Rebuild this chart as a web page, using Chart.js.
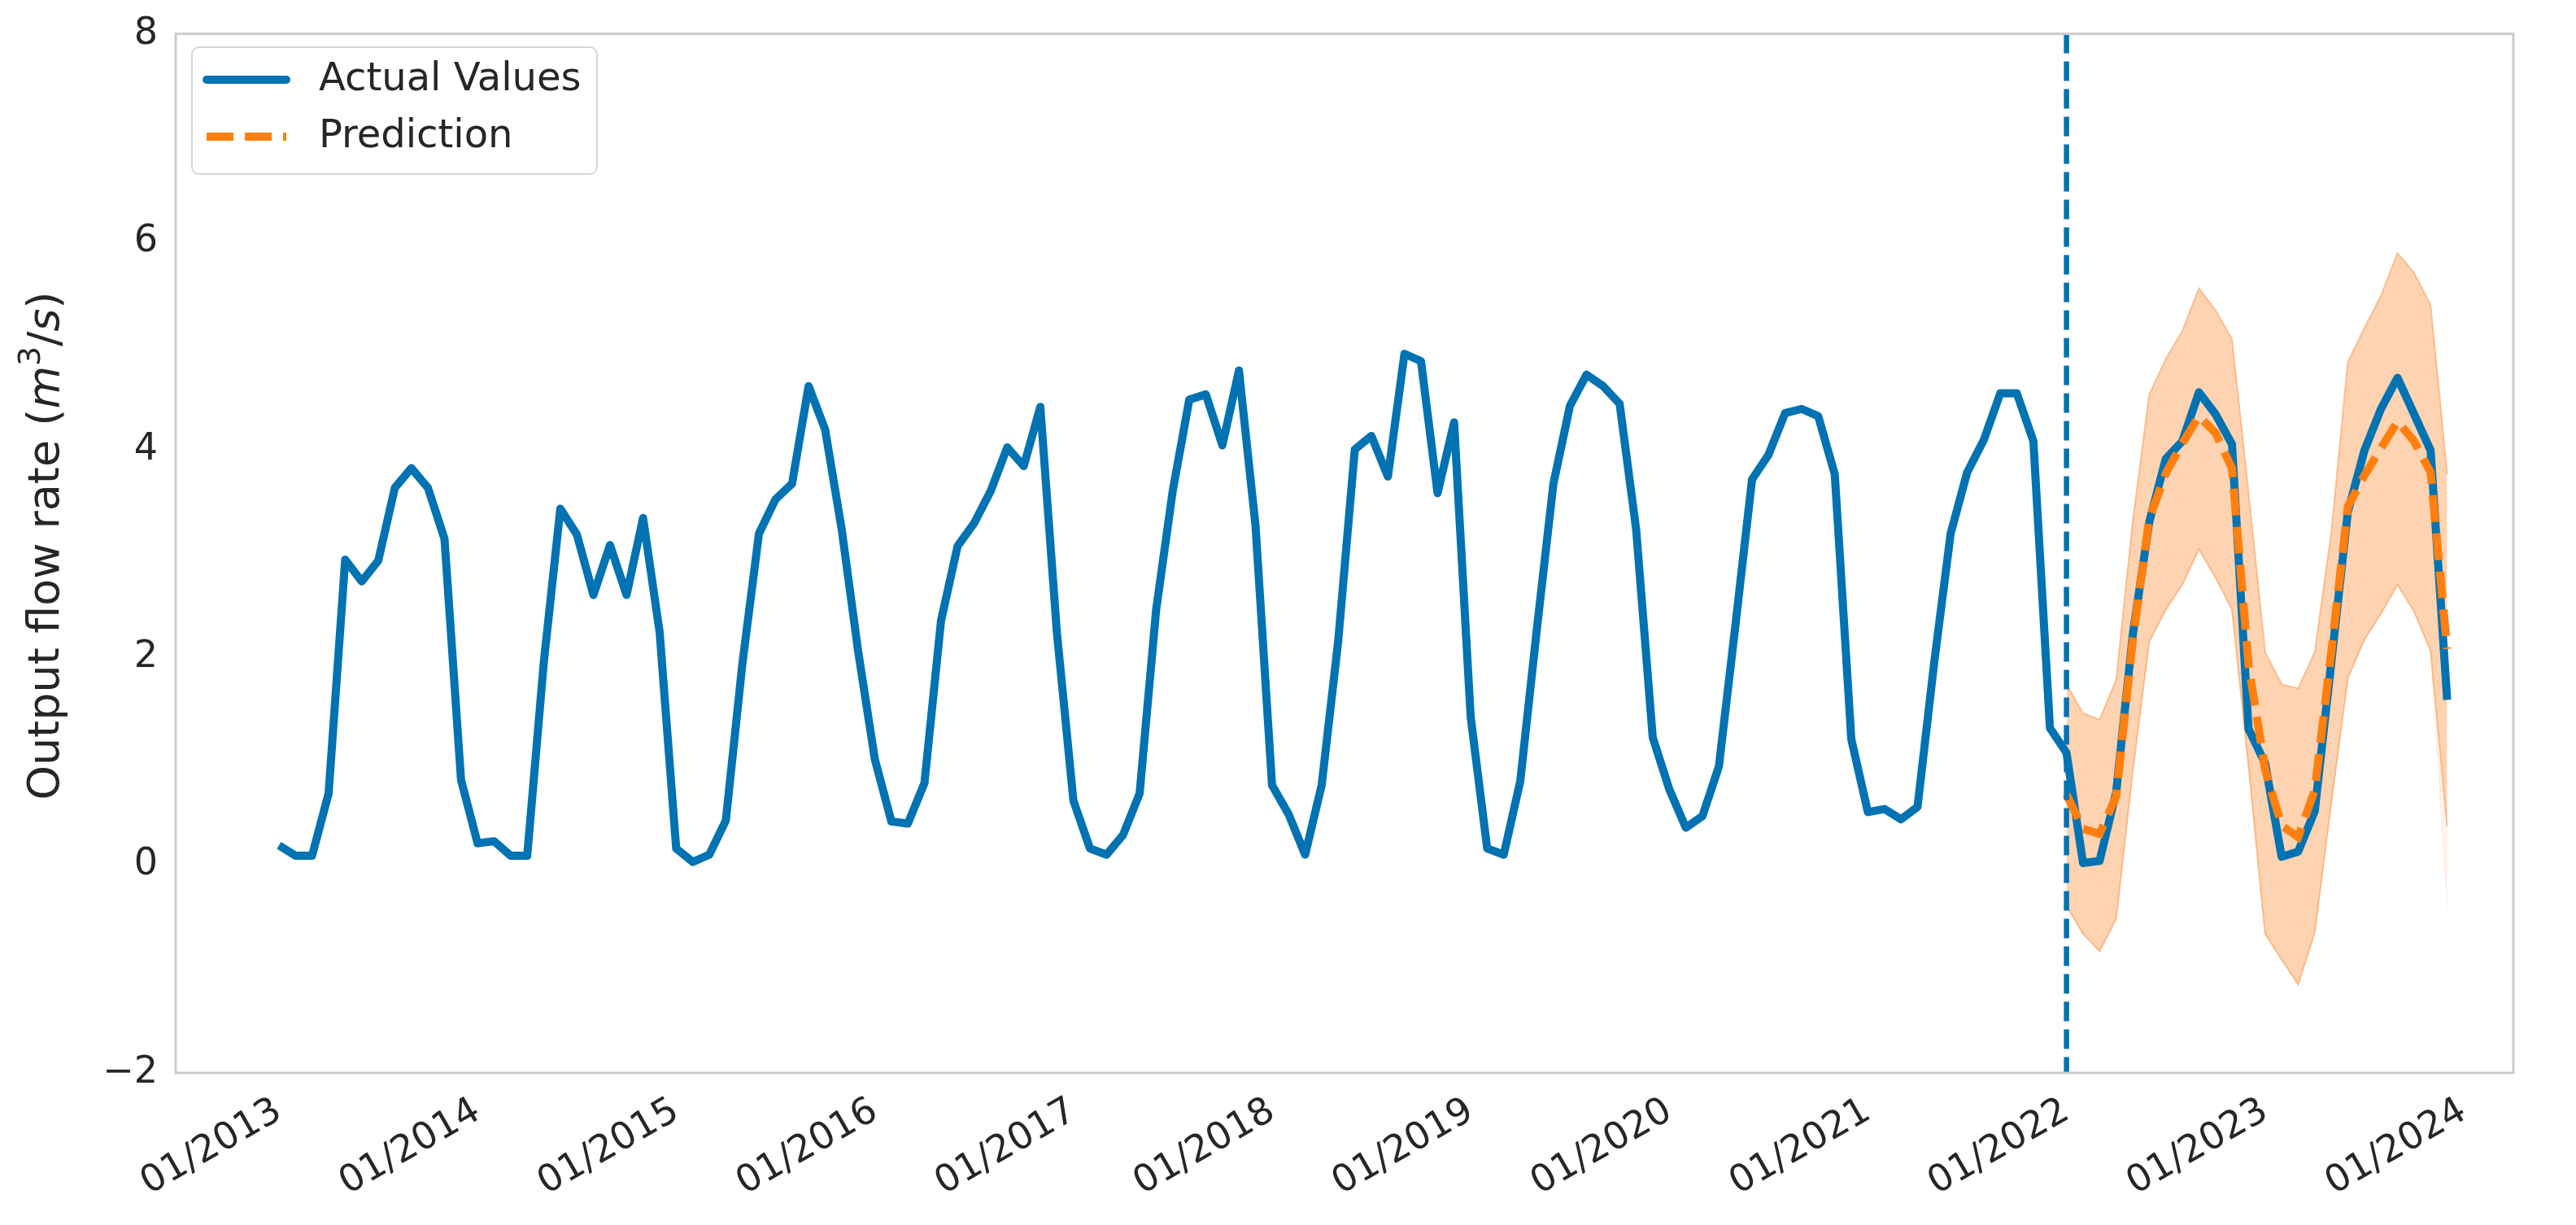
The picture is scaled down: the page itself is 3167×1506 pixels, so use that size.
<!DOCTYPE html>
<html>
<head>
<meta charset="utf-8">
<script src="https://cdn.jsdelivr.net/npm/chart.js"></script>
<style>
  html, body { margin: 0; padding: 0; background: #fff; }
  #flowChart { display: block; }
</style>
</head>
<body>
<canvas id="flowChart" width="3167" height="1506"></canvas>
<script>
// monthly output flow rate, 01/2013 .. 12/2023
var actualValues = [
    0.19, 0.09, 0.09, 0.69, 2.94, 2.73, 2.93, 3.63, 3.82, 3.63, 3.14, 0.82,
    0.21, 0.23, 0.09, 0.09, 1.95, 3.43, 3.18, 2.60, 3.08, 2.60, 3.34, 2.24,
    0.16, 0.03, 0.10, 0.43, 1.94, 3.19, 3.52, 3.67, 4.61, 4.19, 3.23, 2.05,
    1.02, 0.42, 0.40, 0.79, 2.35, 3.07, 3.29, 3.60, 4.02, 3.84, 4.41, 2.24,
    0.62, 0.16, 0.10, 0.29, 0.69, 2.46, 3.60, 4.48, 4.53, 4.04, 4.76, 3.27,
    0.77, 0.49, 0.10, 0.77, 2.16, 4.00, 4.13, 3.74, 4.92, 4.85, 3.58, 4.26,
    1.43, 0.16, 0.10, 0.81, 2.27, 3.67, 4.42, 4.72, 4.61, 4.44, 3.23, 1.23,
    0.73, 0.36, 0.47, 0.95, 2.31, 3.71, 3.95, 4.35, 4.39, 4.32, 3.76, 1.21,
    0.51, 0.54, 0.44, 0.56, 1.94, 3.19, 3.78, 4.09, 4.54, 4.54, 4.08, 1.32,
    1.08, 0.02, 0.04, 0.70, 2.21, 3.30, 3.91, 4.08, 4.55, 4.34, 4.05, 1.31,
    0.98, 0.08, 0.13, 0.52, 1.95, 3.40, 3.99, 4.39, 4.69, 4.34, 3.99, 1.59
];

// prediction starts at month index 108 (01/2022)
var predStart = 108;
var predValues = [
    0.68, 0.35, 0.30, 0.66, 2.16, 3.33, 3.77, 4.06, 4.32, 4.16, 3.82, 1.93,
    0.92, 0.38, 0.27, 0.72, 2.05, 3.45, 3.75, 4.01, 4.27, 4.08, 3.78, 2.08
];
var predUpper = [
    1.74, 1.46, 1.40, 1.78, 3.30, 4.53, 4.87, 5.14, 5.55, 5.34, 5.06, 3.58,
    2.05, 1.74, 1.70, 2.05, 3.20, 4.84, 5.17, 5.48, 5.89, 5.70, 5.39, 3.76
];
var predLower = [
    -0.39, -0.66, -0.83, -0.52, 0.90, 2.15, 2.46, 2.70, 3.04, 2.77, 2.46, 0.95,
    -0.66, -0.91, -1.15, -0.65, 0.60, 1.80, 2.17, 2.42, 2.70, 2.44, 2.06, 0.37
];
// faint lowest sample over the last two months
var tailLower = [2.06, -0.42];

var tickLabels = ['01/2013', '01/2014', '01/2015', '01/2016', '01/2017', '01/2018',
                  '01/2019', '01/2020', '01/2021', '01/2022', '01/2023', '01/2024'];
var yTicks = [-2, 0, 2, 4, 6, 8];

var blue = '#0173b2';
var orange = '#ff7f0e';
var textColor = '#262626';
var font = '"DejaVu Sans", sans-serif';

function series(values, offset) {
    return values.map(function (v, i) { return { x: offset + i, y: v }; });
}

// frame, dashed split line, y title and legend
var decorations = {
    id: 'decorations',
    afterDatasetsDraw: function (chart) {
        var ctx = chart.ctx, a = chart.chartArea;
        var px = chart.scales.x.getPixelForValue(predStart);
        ctx.save();
        ctx.strokeStyle = blue;
        ctx.lineWidth = 6.5;
        ctx.setLineDash([24, 10]);
        ctx.beginPath();
        ctx.moveTo(px, a.top);
        ctx.lineTo(px, a.bottom);
        ctx.stroke();
        ctx.restore();
    },
    afterDraw: function (chart) {
        var ctx = chart.ctx, a = chart.chartArea;
        ctx.save();
        ctx.strokeStyle = '#cccccc';
        ctx.lineWidth = 3;
        ctx.strokeRect(a.left, a.top, a.right - a.left, a.bottom - a.top);

        // y axis title, m and s in math italic
        var parts = [
            { t: 'Output flow rate (', f: '54px ' + font, dy: 0 },
            { t: 'm', f: 'italic 54px ' + font, dy: 0 },
            { t: '3', f: '38px ' + font, dy: -23 },
            { t: '/', f: '54px ' + font, dy: 0 },
            { t: 's', f: 'italic 54px ' + font, dy: 0 },
            { t: ')', f: '54px ' + font, dy: 0 }
        ];
        var total = 0;
        parts.forEach(function (p) { ctx.font = p.f; p.w = ctx.measureText(p.t).width; total += p.w; });
        ctx.translate(72, 671);
        ctx.rotate(-Math.PI / 2);
        ctx.fillStyle = textColor;
        ctx.textBaseline = 'alphabetic';
        var cx = -total / 2;
        parts.forEach(function (p) { ctx.font = p.f; ctx.fillText(p.t, cx, p.dy); cx += p.w; });
        ctx.setTransform(1, 0, 0, 1, 0, 0);

        // legend box, upper left inside the axes
        var bx = 236, by = 58, bw = 498, bh = 156, r = 9;
        ctx.beginPath();
        ctx.moveTo(bx + r, by);
        ctx.arcTo(bx + bw, by, bx + bw, by + bh, r);
        ctx.arcTo(bx + bw, by + bh, bx, by + bh, r);
        ctx.arcTo(bx, by + bh, bx, by, r);
        ctx.arcTo(bx, by, bx + bw, by, r);
        ctx.closePath();
        ctx.fillStyle = 'rgba(255,255,255,0.8)';
        ctx.fill();
        ctx.strokeStyle = '#d6d6d6';
        ctx.lineWidth = 2;
        ctx.stroke();

        ctx.lineWidth = 10;
        ctx.strokeStyle = blue;
        ctx.lineCap = 'round';
        ctx.beginPath(); ctx.moveTo(254, 98); ctx.lineTo(352, 98); ctx.stroke();
        ctx.lineCap = 'butt';
        ctx.strokeStyle = orange;
        ctx.setLineDash([33, 14]);
        ctx.beginPath(); ctx.moveTo(254, 168); ctx.lineTo(352, 168); ctx.stroke();
        ctx.setLineDash([]);

        ctx.fillStyle = textColor;
        ctx.font = '48px ' + font;
        ctx.textBaseline = 'middle';
        ctx.fillText('Actual Values', 392, 99);
        ctx.fillText('Prediction', 392, 169);
        ctx.restore();
    }
};

var ctx = document.getElementById('flowChart').getContext('2d');
var flowChart = new Chart(ctx, {
    type: 'line',
    data: {
        datasets: [{
            label: 'Actual Values',
            data: series(actualValues, 0),
            borderColor: blue,
            borderWidth: 10,
            borderJoinStyle: 'round',
            pointRadius: 0,
            tension: 0,
            fill: false,
            order: 2
        }, {
            label: 'upper',
            data: series(predUpper, predStart),
            borderColor: 'rgba(251,170,110,0.7)',
            backgroundColor: 'rgba(252,150,70,0.42)',
            borderWidth: 2,
            pointRadius: 0,
            fill: '+1',
            order: 3
        }, {
            label: 'lower',
            data: series(predLower, predStart),
            borderColor: 'rgba(251,170,110,0.7)',
            borderWidth: 2,
            pointRadius: 0,
            fill: false,
            order: 3
        }, {
            label: 'tail',
            data: series(tailLower, predStart + predLower.length - 2),
            borderColor: 'rgba(251,170,110,0.15)',
            backgroundColor: 'rgba(252,150,70,0.12)',
            borderWidth: 1,
            pointRadius: 0,
            fill: 2,
            order: 3
        }, {
            label: 'Prediction',
            data: series(predValues, predStart),
            borderColor: orange,
            borderWidth: 10,
            borderDash: [33, 14],
            pointRadius: 0,
            tension: 0,
            fill: false,
            order: 1
        }]
    },
    options: {
        responsive: false,
        animation: false,
        devicePixelRatio: 1,
        layout: { padding: { top: 36, right: 77, left: 0, bottom: 0 } },
        plugins: {
            legend: { display: false },
            tooltip: { enabled: false }
        },
        scales: {
            x: {
                type: 'linear',
                min: -6.24,
                max: 135,
                grid: { display: false },
                border: { display: false },
                afterBuildTicks: function (scale) {
                    scale.ticks = tickLabels.map(function (t, k) { return { value: 12 * k }; });
                },
                afterFit: function (scale) { scale.height = 187; },
                ticks: {
                    autoSkip: false,
                    minRotation: 30,
                    maxRotation: 30,
                    padding: 12,
                    color: textColor,
                    font: { family: font, size: 46 },
                    callback: function (v, i) { return tickLabels[i]; }
                }
            },
            y: {
                min: -2,
                max: 8,
                grid: { display: false },
                border: { display: false },
                afterBuildTicks: function (scale) {
                    scale.ticks = yTicks.map(function (v) { return { value: v }; });
                },
                afterFit: function (scale) { scale.width = 216; },
                ticks: {
                    padding: 14,
                    color: textColor,
                    font: { family: font, size: 46 },
                    callback: function (v) { return v < 0 ? '\u2212' + Math.abs(v) : String(v); }
                }
            }
        }
    },
    plugins: [decorations]
});
</script>
</body>
</html>
